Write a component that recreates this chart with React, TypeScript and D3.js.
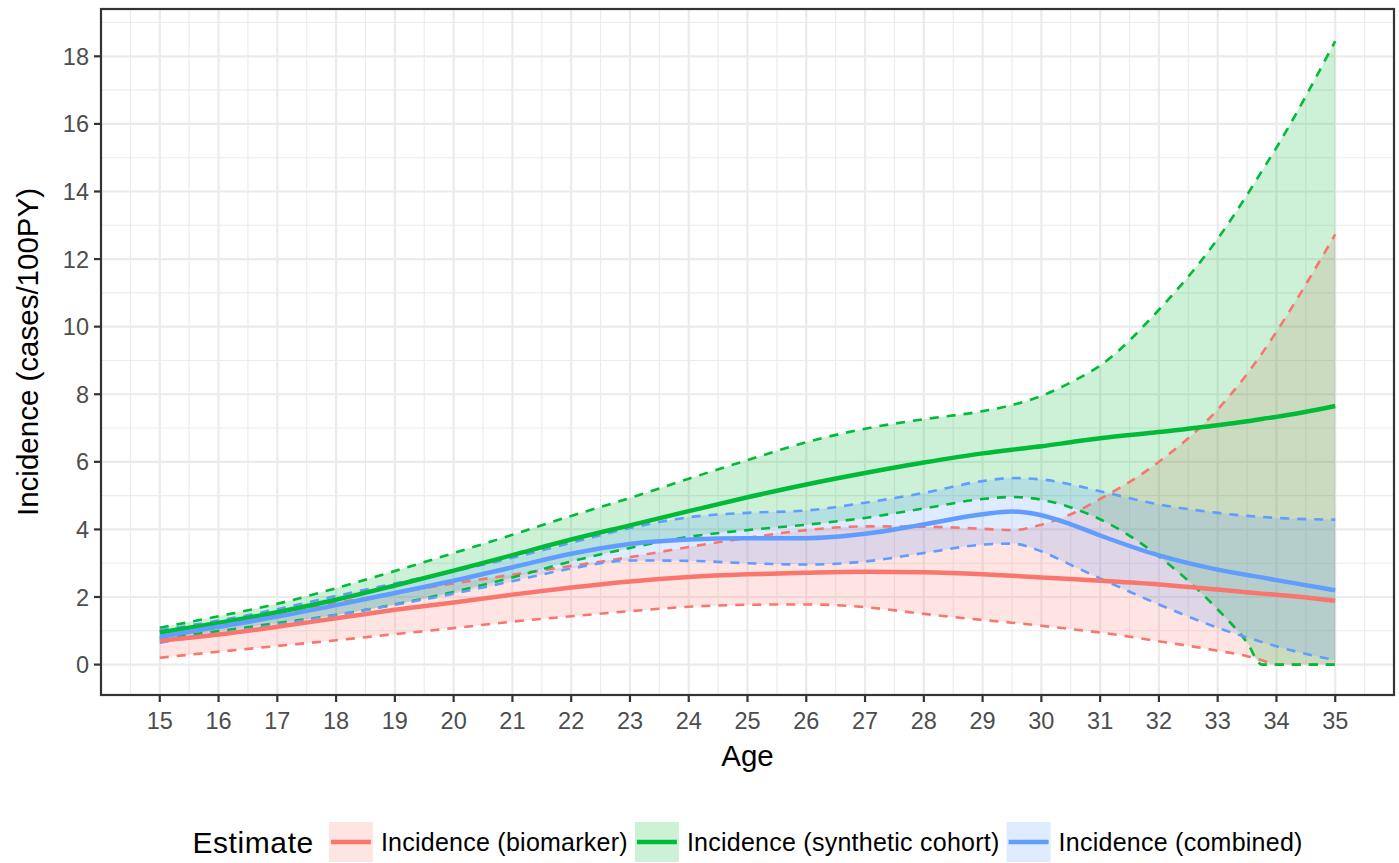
import { useEffect, useRef } from 'react';
import * as d3 from 'd3';

const ages = [15, 16, 17, 18, 19, 20, 21, 22, 23, 24, 25, 26, 27, 28, 29, 29.5, 30, 30.5, 31, 32, 33, 33.5, 33.75, 34, 35];

const bioEst = [0.71, 0.89, 1.12, 1.37, 1.62, 1.84, 2.07, 2.28, 2.46, 2.59, 2.67, 2.72, 2.75, 2.73, 2.67, 2.63, 2.58, 2.53, 2.48, 2.37, 2.22, 2.14, 2.1, 2.07, 1.89];
const bioLo = [0.2, 0.38, 0.55, 0.72, 0.9, 1.08, 1.27, 1.43, 1.58, 1.71, 1.77, 1.78, 1.7, 1.5, 1.32, 1.24, 1.15, 1.05, 0.95, 0.69, 0.41, 0.25, 0.13, 0, 0];
const bioHi = [0.98, 1.22, 1.52, 1.82, 2.12, 2.4, 2.66, 2.92, 3.18, 3.48, 3.75, 3.98, 4.09, 4.08, 4.02, 3.98, 4.14, 4.45, 4.9, 6.0, 7.55, 8.6, 9.2, 9.85, 12.73];

const synEst = [0.95, 1.23, 1.55, 1.92, 2.34, 2.78, 3.24, 3.7, 4.12, 4.54, 4.95, 5.33, 5.67, 5.98, 6.25, 6.36, 6.46, 6.58, 6.7, 6.88, 7.08, 7.2, 7.27, 7.33, 7.65];
const synLo = [0.78, 0.99, 1.23, 1.47, 1.78, 2.15, 2.58, 3.05, 3.45, 3.78, 3.98, 4.14, 4.34, 4.62, 4.9, 4.96, 4.88, 4.65, 4.3, 3.2, 1.63, 0.65, 0, 0, 0];
const synHi = [1.09, 1.43, 1.8, 2.26, 2.77, 3.3, 3.84, 4.4, 4.93, 5.5, 6.05, 6.58, 6.98, 7.26, 7.5, 7.68, 7.95, 8.35, 8.85, 10.5, 12.6, 13.9, 14.6, 15.3, 18.45];

const comEst = [0.82, 1.12, 1.42, 1.76, 2.12, 2.48, 2.88, 3.28, 3.57, 3.7, 3.74, 3.74, 3.87, 4.15, 4.45, 4.53, 4.42, 4.15, 3.82, 3.23, 2.81, 2.65, 2.58, 2.5, 2.2];
const comLo = [0.65, 0.92, 1.18, 1.47, 1.77, 2.1, 2.47, 2.84, 3.08, 3.07, 3.0, 2.96, 3.05, 3.3, 3.55, 3.58, 3.35, 2.95, 2.55, 1.78, 1.09, 0.8, 0.67, 0.54, 0.13];
const comHi = [1.02, 1.3, 1.64, 2.03, 2.4, 2.76, 3.16, 3.6, 4.04, 4.36, 4.49, 4.56, 4.79, 5.08, 5.43, 5.52, 5.48, 5.33, 5.13, 4.74, 4.49, 4.4, 4.37, 4.34, 4.29];

const seriesNames = ['Incidence (biomarker)', 'Incidence (synthetic cohort)', 'Incidence (combined)'];
const seriesColors = ['#F8766D', '#00BA38', '#619CFF'];

const xTicks = d3.range(15, 36);
const yTicks = [0, 2, 4, 6, 8, 10, 12, 14, 16, 18];

const FONT = '"Liberation Sans", Arial, Helvetica, sans-serif';

const App = () => {
  const svgRef = useRef<SVGSVGElement>(null);

  useEffect(() => {
    document.body.style.margin = '0';
    const svg = d3.select(svgRef.current);
    svg.selectAll('*').remove();

    const panel = { left: 101, right: 1394, top: 9, bottom: 695 };
    const x = d3.scaleLinear().domain([14, 36]).range([panel.left, panel.right]);
    const y = d3.scaleLinear().domain([-0.9, 19.4]).range([panel.bottom, panel.top]);

    const series = seriesNames.map((name, i) => {
      const est = [bioEst, synEst, comEst][i];
      const lo = [bioLo, synLo, comLo][i];
      const hi = [bioHi, synHi, comHi][i];
      return {
        name,
        color: seriesColors[i],
        rows: ages.map((a, j) => ({ age: a, est: est[j], lo: lo[j], hi: hi[j] }))
      };
    });

    svg
      .append('defs')
      .append('clipPath')
      .attr('id', 'panel-clip')
      .append('rect')
      .attr('x', panel.left)
      .attr('y', panel.top)
      .attr('width', panel.right - panel.left)
      .attr('height', panel.bottom - panel.top);

    // Grid
    const grid = svg.append('g');
    d3.range(14.5, 36, 1).forEach(v => {
      grid.append('line')
        .attr('x1', x(v)).attr('x2', x(v))
        .attr('y1', panel.top).attr('y2', panel.bottom)
        .attr('stroke', '#EBEBEB').attr('stroke-width', 1.1);
    });
    d3.range(1, 20, 2).forEach(v => {
      grid.append('line')
        .attr('x1', panel.left).attr('x2', panel.right)
        .attr('y1', y(v)).attr('y2', y(v))
        .attr('stroke', '#EBEBEB').attr('stroke-width', 1.1);
    });
    xTicks.forEach(v => {
      grid.append('line')
        .attr('x1', x(v)).attr('x2', x(v))
        .attr('y1', panel.top).attr('y2', panel.bottom)
        .attr('stroke', '#EBEBEB').attr('stroke-width', 2.2);
    });
    yTicks.forEach(v => {
      grid.append('line')
        .attr('x1', panel.left).attr('x2', panel.right)
        .attr('y1', y(v)).attr('y2', y(v))
        .attr('stroke', '#EBEBEB').attr('stroke-width', 2.2);
    });

    const plot = svg.append('g').attr('clip-path', 'url(#panel-clip)');

    const area = d3.area<any>()
      .x(d => x(d.age))
      .y0(d => y(d.lo))
      .y1(d => y(d.hi))
      .curve(d3.curveMonotoneX);

    const lineOf = (key: string) => d3.line<any>()
      .x(d => x(d.age))
      .y(d => y(d[key]))
      .curve(d3.curveMonotoneX);

    // Ribbons
    series.forEach(s => {
      plot.append('path')
        .attr('d', area(s.rows))
        .attr('fill', s.color)
        .attr('fill-opacity', 0.2);
    });

    // Dashed bounds
    series.forEach(s => {
      ['lo', 'hi'].forEach(k => {
        plot.append('path')
          .attr('d', lineOf(k)(s.rows))
          .attr('fill', 'none')
          .attr('stroke', s.color)
          .attr('stroke-width', 2.6)
          .attr('stroke-dasharray', '9,8');
      });
    });

    // Estimates
    series.forEach(s => {
      plot.append('path')
        .attr('d', lineOf('est')(s.rows))
        .attr('fill', 'none')
        .attr('stroke', s.color)
        .attr('stroke-width', 4.5);
    });

    // Panel border
    svg.append('rect')
      .attr('x', panel.left).attr('y', panel.top)
      .attr('width', panel.right - panel.left)
      .attr('height', panel.bottom - panel.top)
      .attr('fill', 'none')
      .attr('stroke', '#333333')
      .attr('stroke-width', 2.2);

    // Axes
    const axes = svg.append('g');
    xTicks.forEach(v => {
      axes.append('line')
        .attr('x1', x(v)).attr('x2', x(v))
        .attr('y1', panel.bottom).attr('y2', panel.bottom + 7)
        .attr('stroke', '#333333').attr('stroke-width', 2.2);
      axes.append('text')
        .attr('x', x(v)).attr('y', panel.bottom + 34)
        .attr('text-anchor', 'middle')
        .style('font-family', FONT).style('font-size', '23.5px')
        .attr('fill', '#4D4D4D')
        .text(v);
    });
    yTicks.forEach(v => {
      axes.append('line')
        .attr('x1', panel.left - 7).attr('x2', panel.left)
        .attr('y1', y(v)).attr('y2', y(v))
        .attr('stroke', '#333333').attr('stroke-width', 2.2);
      axes.append('text')
        .attr('x', panel.left - 12).attr('y', y(v) + 8.5)
        .attr('text-anchor', 'end')
        .style('font-family', FONT).style('font-size', '23.5px')
        .attr('fill', '#4D4D4D')
        .text(v);
    });

    // Axis titles
    svg.append('text')
      .attr('x', (panel.left + panel.right) / 2)
      .attr('y', 766)
      .attr('text-anchor', 'middle')
      .style('font-family', FONT).style('font-size', '29.5px')
      .attr('fill', '#000')
      .text('Age');

    svg.append('text')
      .attr('transform', `translate(38,${(panel.top + panel.bottom) / 2}) rotate(-90)`)
      .attr('text-anchor', 'middle')
      .style('font-family', FONT).style('font-size', '29.5px')
      .attr('fill', '#000')
      .text('Incidence (cases/100PY)');

    // Legend
    const legend = svg.append('g');
    const cy = 842;
    const title = legend.append('text')
      .attr('y', cy + 10.5)
      .style('font-family', FONT).style('font-size', '30px')
      .style('letter-spacing', '0.6px')
      .attr('fill', '#000')
      .text('Estimate');
    const labels = series.map(s =>
      legend.append('text')
        .attr('y', cy + 8.5)
        .style('font-family', FONT).style('font-size', '25px')
        .style('letter-spacing', '0.25px')
        .attr('fill', '#000')
        .text(s.name)
    );
    const keyW = 44;
    const keyH = 40;
    const titleW = (title.node() as SVGTextElement).getComputedTextLength();
    const labelW = labels.map(l => (l.node() as SVGTextElement).getComputedTextLength());
    const total = titleW + 15 + d3.sum(labelW) + series.length * (keyW + 8) + (series.length - 1) * 7;
    let cx = (panel.left + panel.right) / 2 - total / 2;
    title.attr('x', cx);
    cx += titleW + 15;
    series.forEach((s, i) => {
      legend.append('rect')
        .attr('x', cx).attr('y', cy - keyH / 2)
        .attr('width', keyW).attr('height', keyH)
        .attr('fill', s.color).attr('fill-opacity', 0.2);
      legend.append('line')
        .attr('x1', cx + 2).attr('x2', cx + keyW - 2)
        .attr('y1', cy).attr('y2', cy)
        .attr('stroke', s.color).attr('stroke-width', 4.5);
      cx += keyW + 8;
      labels[i].attr('x', cx);
      cx += labelW[i] + 7;
    });
  }, []);

  return <svg ref={svgRef} width={1399} height={863} style={{ display: 'block', background: '#fff' }} />;
};

export default App;
